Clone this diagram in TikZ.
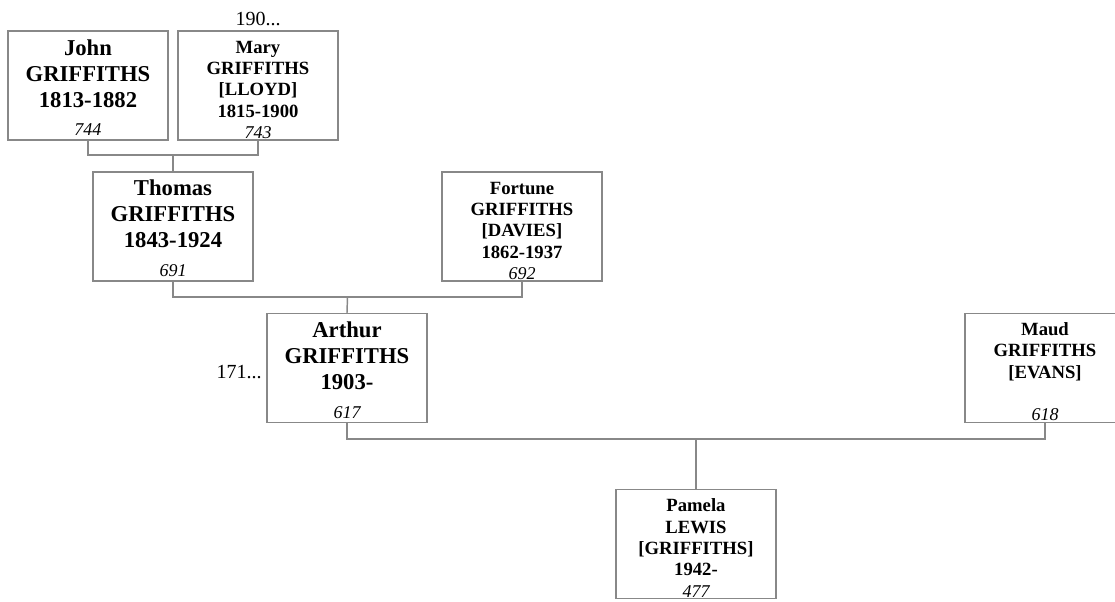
\documentclass[tikz,border=0pt]{standalone}
\usepackage{fontspec}
\setmainfont{Liberation Serif}
\definecolor{linegray}{RGB}{136,136,136}
\newcommand{\idnum}[1]{{\fontsize{13.5pt}{16pt}\selectfont\mdseries\itshape #1}}
\newcommand{\topbig}{\rule{0pt}{14.8pt}}
\newcommand{\topsmall}{\rule{0pt}{15.5pt}}
\begin{document}
\begin{tikzpicture}[x=0.75pt,y=-0.75pt,
  person/.style={draw=linegray,line width=1.1pt,fill=white,minimum width=120pt,minimum height=81.75pt,inner sep=0pt,align=center,anchor=center},
  bigp/.style={person,font={\fontsize{17pt}{19.5pt}\selectfont\bfseries}},
  smallp/.style={person,font={\fontsize{14pt}{16pt}\selectfont\bfseries}},
  link/.style={draw=linegray,line width=1.1pt},
  extra/.style={font=\fontsize{15pt}{18pt}\selectfont,inner sep=0pt}]
\useasboundingbox (0,0) rectangle (1115,601);
\node[bigp] (john) at (88,85.5) {\topbig John\\GRIFFITHS\\1813-1882\\[2pt]\idnum{744}};
\node[smallp] (mary) at (258,85.5) {\topsmall Mary\\GRIFFITHS\\{[LLOYD]}\\1815-1900\\\idnum{743}};
\node[bigp] (thomas) at (173,226.5) {\topbig Thomas\\GRIFFITHS\\1843-1924\\[2pt]\idnum{691}};
\node[smallp] (fortune) at (522,226.5) {\topsmall Fortune\\GRIFFITHS\\{[DAVIES]}\\1862-1937\\\idnum{692}};
\node[bigp] (arthur) at (347,368) {\topbig Arthur\\GRIFFITHS\\1903-\\[2pt]\idnum{617}};
\node[smallp] (maud) at (1045,368) {\topsmall Maud\\GRIFFITHS\\{[EVANS]}\\\mbox{}\\\idnum{618}};
\node[smallp] (pamela) at (696,544) {\topsmall Pamela\\LEWIS\\{[GRIFFITHS]}\\1942-\\\idnum{477}};
\node[extra,anchor=base] (more190) at (258,25) {190...};
\node[extra,anchor=base east] (more171) at (262,378) {171...};
\coordinate (jm) at (173,155);
\coordinate (tf) at (347.5,297);
\coordinate (am) at (696,439);
\draw[link] (john.south) |- (jm) -| (mary.south);
\draw[link] (jm) -- (thomas.north);
\draw[link] (thomas.south) |- (tf) -| (fortune.south);
\draw[link] (tf) -- (arthur.north);
\draw[link] (arthur.south) |- (am) -| (maud.south);
\draw[link] (am) -- (pamela.north);
\end{tikzpicture}
\end{document}
